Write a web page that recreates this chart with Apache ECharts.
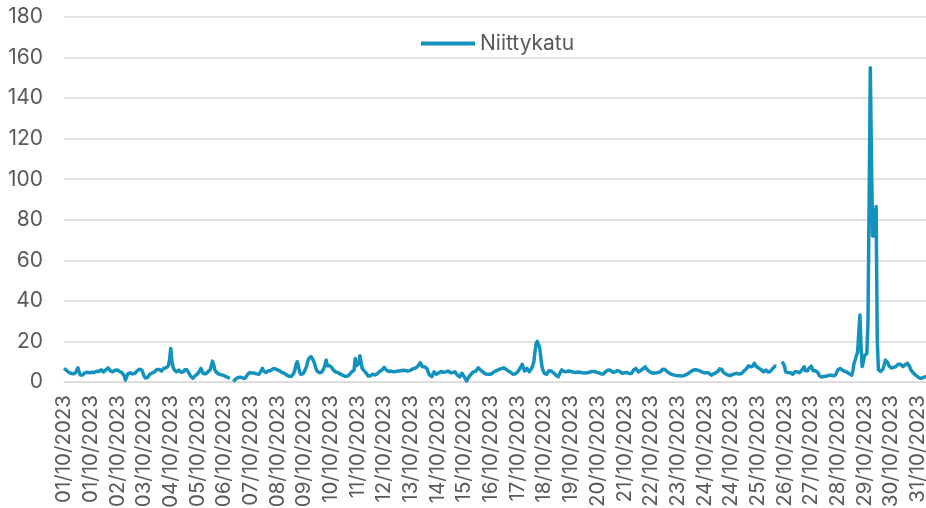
<!DOCTYPE html>
<html>
<head>
<meta charset="utf-8">
<script src="https://cdn.jsdelivr.net/npm/echarts@6/dist/echarts.min.js"></script>
<style>
html,body{margin:0;padding:0;background:#fff;}
#chart{width:926px;height:508px;}
</style>
</head>
<body>
<div id="chart"></div>
<script>
// Hourly values per day, October 2023 (series "Niittykatu")
const d01 = [6.7,6.3,5.8,5.2,4.8,4.5,4.3,4.2,4,3.8,4.5,6,7,5,3.5,2.6,3.5,4.3,4.6,4.7,4.8,4.7,4.6,4.7];
const d02 = [4.8,4.6,4.7,5,5.3,5.5,5.2,5.6,6,5.5,5,5.2,6,6.5,7,6.2,5.5,5.2,5,5.4,5.8,5.6,5.9,5.5];
const d03 = [5.2,4.8,4.6,4.3,3,1,2.5,4,4.3,4.5,4.2,4,3.8,4.2,4.8,5.5,6,6.3,6.7,6,4.5,3,2,1.8];
const d04 = [2.2,3,3.8,4.3,4.5,4.3,5,5.6,6.2,6.7,6.2,5.6,5.4,6,6.7,6.5,7,7.5,8,11,16.5,10,7.5,6];
const d05 = [5.2,5,5.5,5.9,5.2,4.8,4.3,5,6,6.7,6,5,4.3,3,2.2,1.8,2.2,3,3.4,4,4.8,5.5,6.7,5.5];
const d06 = [4.2,3.4,4,4.6,5,5.2,6,8,10.3,8.5,6,5,4.5,4,3.8,3.6,3.5,3.4,3,2.8,2.6,2.3,2,1.8];
const d07 = [null,null,0.2,0.8,1.5,1.8,2.2,2.6,2.4,2.2,2,1.8,1.8,2.5,3.5,4.2,4.7,4.6,4.4,4.3,4.4,4.3,4,3.9];
const d08 = [3.8,4.5,5.5,6.7,5.5,4.7,4.7,5,5.5,5.9,5.6,5.9,6.5,6.7,6.5,6.2,6,5.9,5.5,5,4.6,4.4,4.3,3.8];
const d09 = [3.4,3.1,2.8,2.6,2.8,3.3,4.3,6,8.5,10,8,5,3.8,3.4,4,5,5.9,7.5,10,11.6,12.3,12.5,12,10.5];
const d10 = [9,7,5.5,5,4.6,4.3,4.8,5.5,6.7,8.5,10.8,8,7.5,8,8.2,7,6,5.5,5,4.8,4.6,4.3,4,3.6];
const d11 = [3.4,3,2.8,2.6,2.8,3.2,3.6,4.3,5,5.5,5.9,11.6,8,7.5,9,13,10,6.7,5.8,5.4,5,4,3,2.6];
const d12 = [3,3.5,3.8,3.6,3.5,3.4,4,4.7,5.2,5.6,5.9,6.5,7.2,7,5.8,5,5.2,5.5,5.4,5.2,5,5,5.2,5.3];
const d13 = [5.4,5.3,5.5,5.7,5.8,5.9,5.7,5.5,5.4,5.4,5.6,6,6.3,6.5,6.7,6.8,7.2,7.5,8.5,9.5,9,7.5,6.7,7.5];
const d14 = [8,6.5,4.7,3.5,2.8,2.6,3.5,5,4.5,3.8,3.4,4.5,5.4,5.2,5,4.8,4.7,5,5.3,5.4,5,4.6,4.3,4.6];
const d15 = [4.9,5,4.6,3.4,3,2.6,3.2,4.3,3.5,2.5,1.8,0.5,0.2,2.5,3.4,4,4.7,5,5.2,5.4,6,7,6.5,5.9];
const d16 = [5.5,5,4.3,4,3.8,3.8,3.9,3.8,3.8,4.2,4.7,5.2,5.4,5.6,5.9,6.2,6.4,6.6,6.8,7,6.7,6.3,5.9,5.4];
const d17 = [5,4.8,4.3,3.8,3.8,4,4.3,5,5.8,6.7,7.5,8.7,7,5.4,6,6.7,6,5,5.8,6.7,8,10,15,19];
const d18 = [20,19.5,17,12,7.5,5.5,4.3,4,3.8,4.5,5.5,5.9,5.4,5,4.5,3.8,3.3,2.9,2.6,3.5,5,6,5.6,5.2];
const d19 = [5,5.1,5.3,5.4,5.4,5.2,5,4.9,4.8,4.7,4.8,4.9,5,4.8,4.6,4.5,4.3,4.4,4.5,4.6,4.6,4.8,5,5.2];
const d20 = [5.4,5.2,5,4.8,4.7,4.5,4.2,4,3.8,4,4.6,5.2,5.4,5.9,6.2,5.8,5.2,4.8,4.7,5,5.3,5.6,5.9,5.2];
const d21 = [4.7,4.3,4.4,4.6,4.8,4.7,4.5,4.2,3.8,4.2,4.8,5.9,6.3,6.7,6,5,5.2,5.6,5.9,6.5,7.2,7.5,6.5,5.8];
const d22 = [5.4,5,4.7,4.5,4.3,4.4,4.5,4.6,4.7,4.7,5,5.6,6.3,7,6.2,5.5,5,4.6,4.3,4,3.8,3.6,3.4,3.3];
const d23 = [3.2,3.1,3.1,3,3,3.1,3.1,3.2,3.5,3.8,4.2,4.5,5,5.4,5.8,5.9,6,6,5.9,5.8,5.5,5.2,4.9,4.7];
const d24 = [4.5,4.4,4.6,4.8,4.3,3.8,3.4,3.6,4,4.3,4.6,5,5.4,6.5,7.4,6.2,5,4.5,4.1,3.8,3.5,3.2,3.1,3.3];
const d25 = [3.6,3.8,4,4.2,4.3,4.1,3.9,3.8,4.2,5,5.4,6,6.4,6.7,8,8.7,7.5,6.7,8,9.2,8.3,7.5,7,6.8];
const d26 = [6.7,6,5.4,5,5.5,5.9,5.3,4.9,4.6,5.3,6,6.7,7.2,7.9,7.8,null,null,null,null,10,9.8,8,5,4.3];
const d27 = [4.6,5,4.6,4.3,3.8,4.5,5,5.4,5,4.3,4.6,5.2,5.9,6.8,7.5,5.5,4.6,5.5,6.7,7.3,7.8,8,5.5,5.2];
const d28 = [5.5,5.9,4.5,3.2,2.6,2.5,2.6,2.7,2.6,2.8,3,3.3,3.4,3.3,3.2,3.1,3.1,3.4,4.2,5.9,6.3,6.7,6.4,5.8];
const d29 = [5.4,5.2,4.9,4.8,4.5,4,3.6,3.4,5.5,9.2,11,13,14.5,15,33,18,7.6,10,13,13.5,14,30,90,155];
const d30 = [110,72,85,72,86.5,20,6,5.5,5.2,5.3,6.5,8.5,10.8,11,9.5,8,7.2,6.9,7,7.2,7.5,7.6,8,8.8];
const d31 = [9.5,8.8,8,7.6,8,8.5,9,9.2,8.5,7.5,6,5.2,4.5,4,3.4,3,2.5,2,1.8,1.6,2,2.4,2.6,2.5];

const days = [d01,d02,d03,d04,d05,d06,d07,d08,d09,d10,d11,d12,d13,d14,d15,d16,d17,d18,d19,d20,d21,d22,d23,d24,d25,d26,d27,d28,d29,d30,d31];
const seriesName = 'Niittykatu';
const yTicks = {min: 0, max: 180, step: 20};

// Category labels: one per hourly reading, labelled with its date
const categories = [];
const values = [];
days.forEach((arr, di) => {
  const dd = String(di + 1).padStart(2, '0');
  arr.forEach(v => { categories.push(dd + '/10/2023'); values.push(v); });
});

const FONT = 'Inter';
const chart = echarts.init(document.getElementById('chart'), null, {renderer: 'canvas'});
chart.setOption({
  animation: false,
  backgroundColor: '#ffffff',
  legend: {
    top: 28,
    left: 416,
    icon: 'rect',
    itemWidth: 54,
    itemHeight: 4,
    textStyle: {color: '#595959', fontSize: 21, fontFamily: FONT},
    data: [seriesName]
  },
  grid: {left: 64, right: 0, top: 17, bottom: 126, containLabel: false, outerBoundsMode: 'none'},
  xAxis: {
    type: 'category',
    data: categories,
    boundaryGap: false,
    axisLine: {show: true, lineStyle: {color: '#d9d9d9', width: 1}},
    axisTick: {show: false},
    axisLabel: {
      interval: 22,
      rotate: 90,
      margin: 13,
      color: '#595959',
      fontSize: 20.5,
      fontFamily: FONT
    },
    splitLine: {show: false}
  },
  yAxis: {
    type: 'value',
    min: yTicks.min,
    max: yTicks.max,
    interval: yTicks.step,
    axisLine: {show: false},
    axisTick: {show: false},
    axisLabel: {color: '#595959', fontSize: 21, fontFamily: FONT, margin: 21},
    splitLine: {lineStyle: {color: '#d9d9d9', width: 1.5}}
  },
  series: [{
    name: seriesName,
    type: 'line',
    data: values,
    symbol: 'none',
    showSymbol: false,
    connectNulls: false,
    itemStyle: {color: '#1492be'},
    lineStyle: {color: '#1492be', width: 3.5, join: 'round'}
  }]
});
</script>
</body>
</html>
